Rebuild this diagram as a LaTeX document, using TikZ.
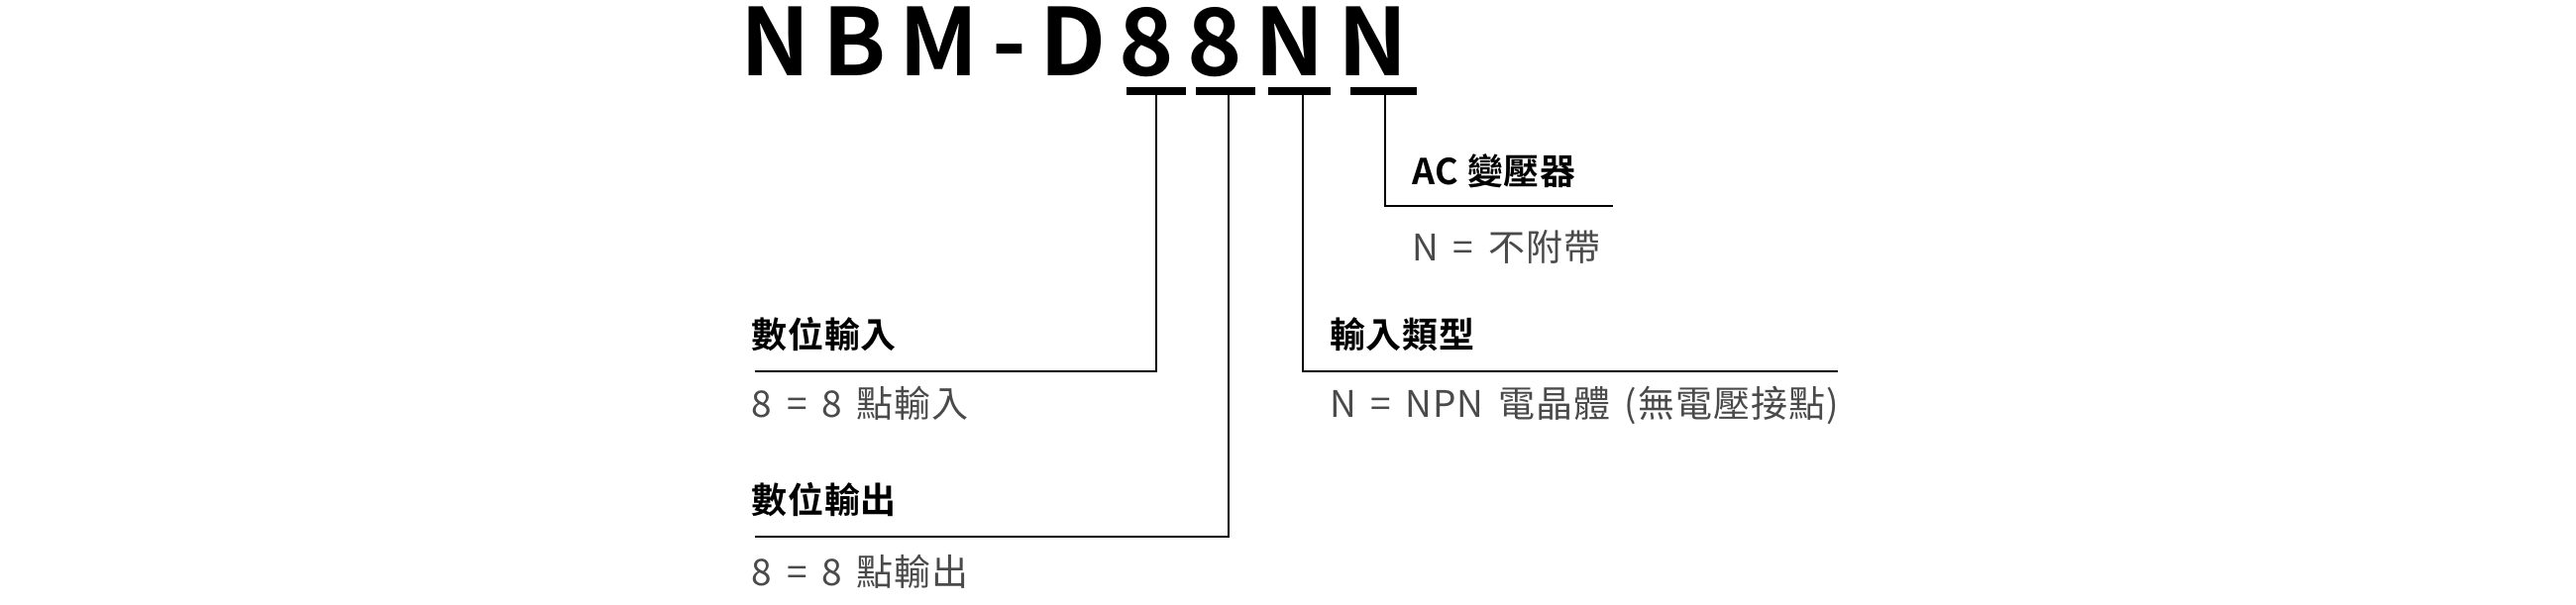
\documentclass[tikz,border=0pt]{standalone}
\usepackage{fontspec}
\setmainfont{Noto Sans CJK TC}
\newfontfamily\titlefont[LetterSpace=14]{Noto Sans CJK TC Bold}
\newfontfamily\boldcjk[LetterSpace=2]{Noto Sans CJK TC Bold}
\newfontfamily\valfont[LetterSpace=2.5,WordSpace=1.6]{Noto Sans CJK TC}
\definecolor{gr}{HTML}{4A4A4A}
\begin{document}
\begin{tikzpicture}[x=0.8333pt,y=-0.8333pt,
  hd/.style={anchor=base west,inner sep=0,font=\fontsize{18}{20}\selectfont\boldcjk},
  vl/.style={anchor=base west,inner sep=0,font=\fontsize{18.5}{20}\selectfont\valfont,text=gr},
  ln/.style={line width=0.9pt},
  bar/.style={line width=4pt}]
\useasboundingbox (0,0) rectangle (1560,366);
\node[anchor=base west,inner sep=0,font=\fontsize{47}{50}\selectfont\titlefont] (t) at (448,46) {NBM-D88NN};
\coordinate (b1) at (700,55); \coordinate (b2) at (744,55);
\coordinate (b3) at (789,55); \coordinate (b4) at (839,55);
\draw[bar] (682,55) -- (718,55);
\draw[bar] (724,55) -- (760,55);
\draw[bar] (768,55) -- (806,55);
\draw[bar] (818,55) -- (858,55);
\coordinate (e1) at (457,225); \coordinate (e2) at (457,325);
\coordinate (e3) at (1113,225); \coordinate (e4) at (977,125);
\draw[ln] (b1) |- (e1);
\draw[ln] (b2) |- (e2);
\draw[ln] (b3) |- (e3);
\draw[ln] (b4) |- (e4);
\node[hd] (h4) at (855,112) {AC 變壓器};
\node[vl] (v4) at (855,158) {N = 不附帶};
\node[hd] (h1) at (455,211) {數位輸入};
\node[vl] (v1) at (455,253) {8 = 8 點輸入};
\node[hd] (h2) at (455,311) {數位輸出};
\node[vl] (v2) at (455,355) {8 = 8 點輸出};
\node[hd] (h3) at (805,211) {輸入類型};
\node[vl] (v3) at (805,253) {N = NPN 電晶體 (無電壓接點)};
\end{tikzpicture}
\end{document}
